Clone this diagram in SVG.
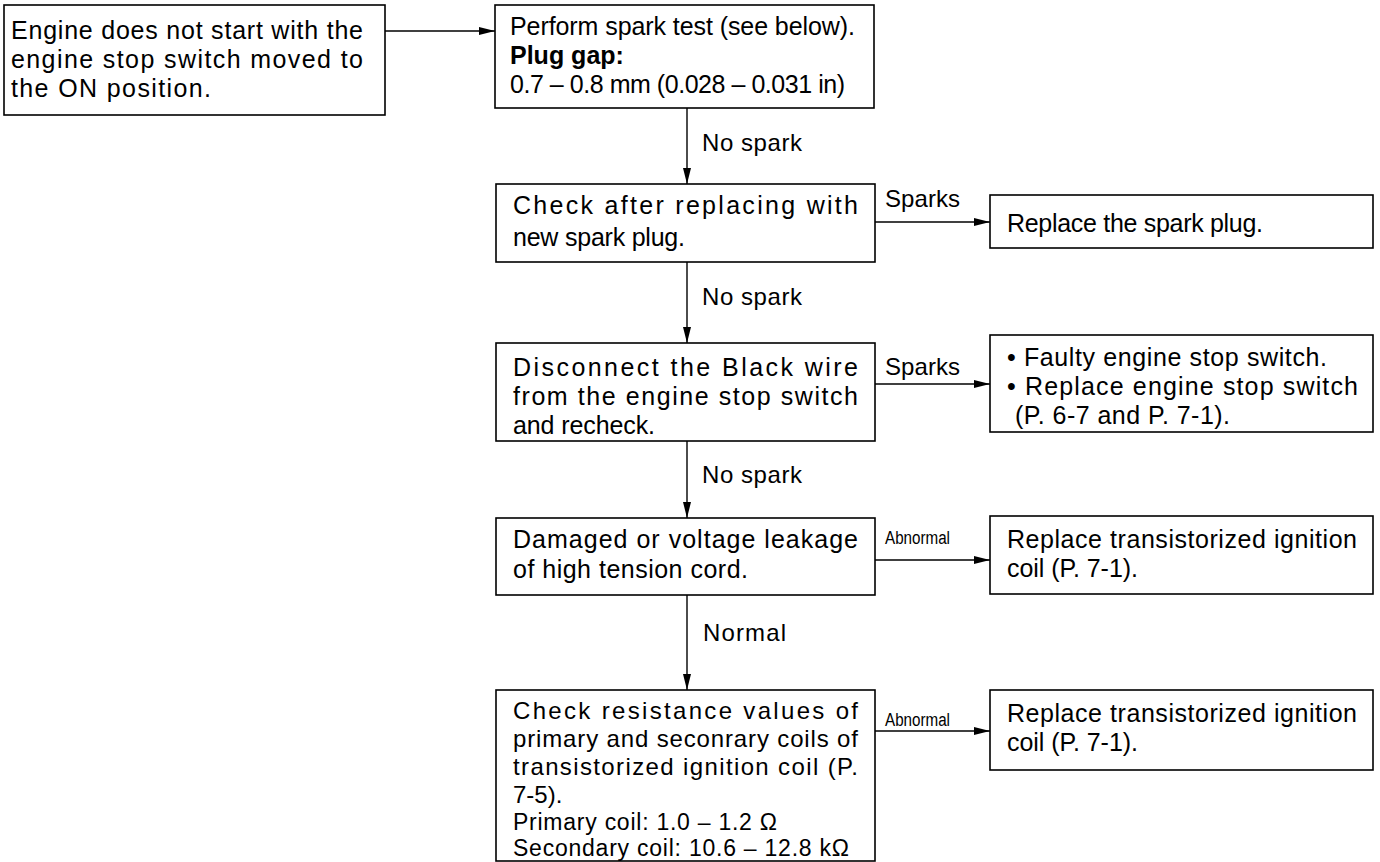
<svg xmlns="http://www.w3.org/2000/svg" width="1380" height="862" viewBox="0 0 1380 862">
<defs>
<style>
.box{fill:#fff;stroke:#000;stroke-width:1.6}
.t{font-family:"Liberation Sans",Arial,sans-serif;font-size:25px;fill:#000}
.t24{font-family:"Liberation Sans",Arial,sans-serif;font-size:24px;fill:#000}
.t23{font-family:"Liberation Sans",Arial,sans-serif;font-size:23px;fill:#000}
.b{font-weight:bold}
.lbl{font-family:"Liberation Sans",Arial,sans-serif;font-size:24px;fill:#000}
.sm{font-family:"Liberation Sans",Arial,sans-serif;font-size:18px;fill:#000}
.c{stroke:#000;stroke-width:1.4;fill:none;marker-end:url(#ah)}
</style>
<marker id="ah" viewBox="0 0 16 8" refX="16" refY="4" markerWidth="16" markerHeight="8" markerUnits="userSpaceOnUse" orient="auto"><path d="M0,0 L16,4 L0,8 z" fill="#000"/></marker>
</defs>
<rect width="1380" height="862" fill="#fff"/>
<g id="connectors">
<line class="c" x1="385" y1="31" x2="495" y2="31"/>
<line class="c" x1="687" y1="108" x2="687" y2="184"/>
<text class="lbl" x="702" y="151" textLength="100" lengthAdjust="spacing">No spark</text>
<line class="c" x1="875" y1="222" x2="990" y2="222"/>
<text class="lbl" x="885" y="207" textLength="75" lengthAdjust="spacing">Sparks</text>
<line class="c" x1="687" y1="262" x2="687" y2="343"/>
<text class="lbl" x="702" y="305" textLength="100" lengthAdjust="spacing">No spark</text>
<line class="c" x1="875" y1="384" x2="990" y2="384"/>
<text class="lbl" x="885" y="375" textLength="75" lengthAdjust="spacing">Sparks</text>
<line class="c" x1="687" y1="441" x2="687" y2="518"/>
<text class="lbl" x="702" y="483" textLength="100" lengthAdjust="spacing">No spark</text>
<line class="c" x1="875" y1="560" x2="990" y2="560"/>
<text class="sm" x="885" y="544" textLength="65" lengthAdjust="spacingAndGlyphs">Abnormal</text>
<line class="c" x1="687" y1="595" x2="687" y2="690"/>
<text class="lbl" x="703" y="641" textLength="83" lengthAdjust="spacing">Normal</text>
<line class="c" x1="875" y1="731" x2="990" y2="731"/>
<text class="sm" x="885" y="726" textLength="65" lengthAdjust="spacingAndGlyphs">Abnormal</text>
</g>
<g id="n1">
<rect class="box" x="4" y="5" width="381" height="110"/>
<text class="t" x="11" y="39" textLength="352" lengthAdjust="spacing">Engine does not start with the</text>
<text class="t" x="11" y="68" textLength="352" lengthAdjust="spacing">engine stop switch moved to</text>
<text class="t" x="11" y="97" textLength="200" lengthAdjust="spacing">the ON position.</text>
</g>
<g id="n2">
<rect class="box" x="495" y="5" width="379" height="103"/>
<text class="t" x="510" y="35" textLength="345" lengthAdjust="spacing">Perform spark test (see below).</text>
<text class="t b" x="510" y="64">Plug gap:</text>
<text class="t" x="510" y="93" textLength="335" lengthAdjust="spacing">0.7 – 0.8 mm (0.028 – 0.031 in)</text>
</g>
<g id="n3">
<rect class="box" x="496" y="184" width="379" height="78"/>
<text class="t" x="513" y="214" textLength="345" lengthAdjust="spacing">Check after replacing with</text>
<text class="t" x="513" y="246" textLength="172" lengthAdjust="spacing">new spark plug.</text>
</g>
<g id="n4">
<rect class="box" x="990" y="195" width="383" height="53"/>
<text class="t" x="1007" y="232" textLength="256" lengthAdjust="spacing">Replace the spark plug.</text>
</g>
<g id="n5">
<rect class="box" x="496" y="343" width="379" height="98"/>
<text class="t" x="513" y="376" textLength="345" lengthAdjust="spacing">Disconnect the Black wire</text>
<text class="t" x="513" y="405" textLength="345" lengthAdjust="spacing">from the engine stop switch</text>
<text class="t" x="513" y="434" textLength="142" lengthAdjust="spacing">and recheck.</text>
</g>
<g id="n6">
<rect class="box" x="990" y="335" width="383" height="97"/>
<text class="t" x="1007" y="366" textLength="320" lengthAdjust="spacing">• Faulty engine stop switch.</text>
<text class="t" x="1007" y="395" textLength="351" lengthAdjust="spacing">• Replace engine stop switch</text>
<text class="t" x="1015" y="424" textLength="215" lengthAdjust="spacing">(P. 6-7 and P. 7-1).</text>
</g>
<g id="n7">
<rect class="box" x="496" y="518" width="379" height="77"/>
<text class="t" x="513" y="548" textLength="345" lengthAdjust="spacing">Damaged or voltage leakage</text>
<text class="t" x="513" y="578" textLength="235" lengthAdjust="spacing">of high tension cord.</text>
</g>
<g id="n8">
<rect class="box" x="990" y="516" width="383" height="78"/>
<text class="t" x="1007" y="548" textLength="350" lengthAdjust="spacing">Replace transistorized ignition</text>
<text class="t" x="1007" y="577" textLength="131" lengthAdjust="spacing">coil (P. 7-1).</text>
</g>
<g id="n9">
<rect class="box" x="496" y="690" width="379" height="171"/>
<text class="t24" x="513" y="719" textLength="345" lengthAdjust="spacing">Check resistance values of</text>
<text class="t24" x="513" y="747" textLength="345" lengthAdjust="spacing">primary and seconrary coils of</text>
<text class="t24" x="513" y="775" textLength="345" lengthAdjust="spacing">transistorized ignition coil (P.</text>
<text class="t24" x="513" y="803">7-5).</text>
<text class="t23" x="513" y="830" textLength="264" lengthAdjust="spacing">Primary coil: 1.0 – 1.2 Ω</text>
<text class="t23" x="513" y="856" textLength="336" lengthAdjust="spacing">Secondary coil: 10.6 – 12.8 kΩ</text>
</g>
<g id="n10">
<rect class="box" x="990" y="690" width="383" height="80"/>
<text class="t" x="1007" y="722" textLength="350" lengthAdjust="spacing">Replace transistorized ignition</text>
<text class="t" x="1007" y="751" textLength="131" lengthAdjust="spacing">coil (P. 7-1).</text>
</g>
</svg>
